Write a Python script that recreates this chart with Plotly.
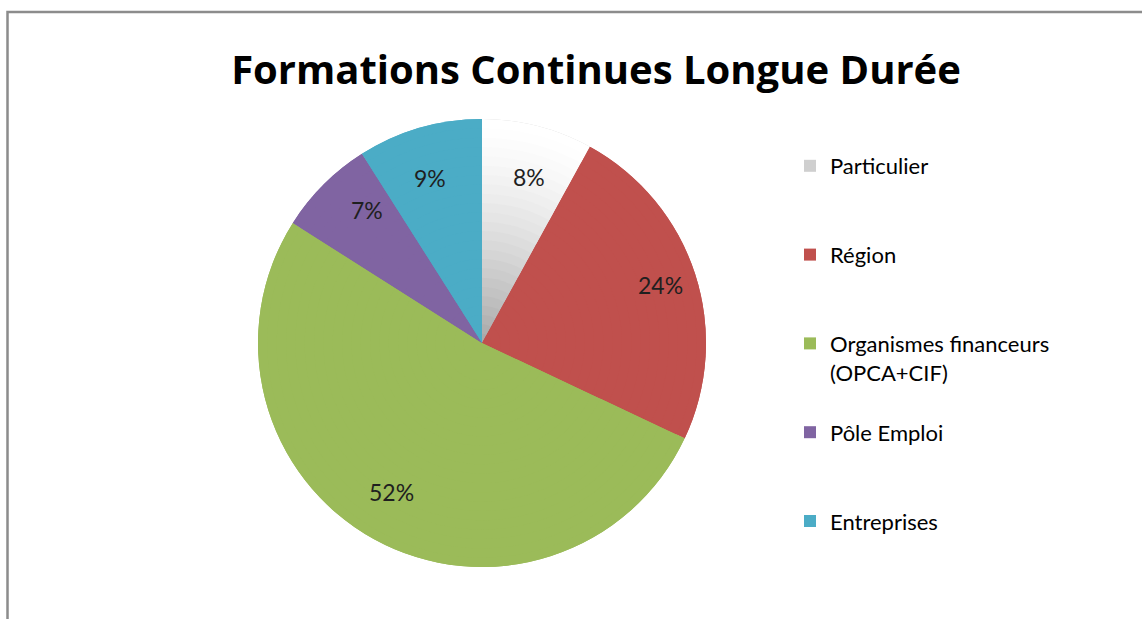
import math
import plotly.graph_objects as go

# Sources de financement
categories = ["Particulier", "Région", "Organismes financeurs<br>(OPCA+CIF)", "Pôle Emploi", "Entreprises"]
values = [8, 24, 52, 7, 9]
colors = ["#cfcfcf", "#c0504d", "#9bbb59", "#8064a2", "#4bacc6"]

W, H = 1142, 619
CX, CY, R = 482, 343, 224  # centre et rayon du camembert en pixels
FONT = "Lato, 'Open Sans', sans-serif"
N_RINGS = 24  # anneaux superposés pour imiter le dégradé du secteur "Particulier"

# lignes vides pour espacer les items de la légende comme dans Excel
legend_labels = [c + "<br> " * (3 - (c.count("<br>") + 1)) for c in categories]


def domain(r):
    return dict(x=[(CX - r) / W, (CX + r) / W], y=[(H - CY - r) / H, (H - CY + r) / H])


def grey(t):
    # t = 0 au bord, 1 au centre
    g = round(255 - 85 * t ** 1.4)
    return f"rgb({g},{g},{g})"


fig = go.Figure()

# camembert de base qui porte la légende (recouvert par les anneaux)
fig.add_trace(go.Pie(
    labels=legend_labels,
    values=values,
    sort=False,
    direction="clockwise",
    rotation=0,
    marker=dict(colors=colors, line=dict(width=0)),
    textinfo="none",
    domain=domain(R),
    hoverinfo="skip",
))

for i in range(N_RINGS):
    r = R * (N_RINGS - i) / N_RINGS
    ring_colors = [grey(i / (N_RINGS - 1))] + colors[1:]
    fig.add_trace(go.Pie(
        labels=legend_labels,
        values=values,
        sort=False,
        direction="clockwise",
        rotation=0,
        marker=dict(colors=ring_colors, line=dict(width=0)),
        textinfo="none",
        domain=domain(r),
        showlegend=False,
        hoverinfo="label+percent" if i == 0 else "skip",
    ))

# étiquettes de pourcentage placées vers l'extérieur comme dans Excel
total = sum(values)
annotations = []
cum = 0
for v in values:
    mid = (cum + v / 2) / total * 2 * math.pi
    cum += v
    px = CX + 0.84 * R * math.sin(mid)
    py = CY - 0.84 * R * math.cos(mid)
    annotations.append(dict(
        x=px / W, y=1 - py / H, xref="paper", yref="paper",
        text=f"{v / total:.0%}", showarrow=False,
        font=dict(family=FONT, size=23, color="#1f1f1f"),
    ))

fig.update_layout(
    width=W, height=H,
    margin=dict(l=0, r=0, t=0, b=0),
    paper_bgcolor="white",
    font=dict(family=FONT, color="black"),
    title=dict(
        text="<b>Formations Continues Longue Durée</b>",
        x=596 / W, xanchor="center",
        y=1 - 70 / H, yanchor="middle",
        font=dict(family="'Open Sans', Lato, sans-serif", size=40, color="black"),
    ),
    legend=dict(
        x=790 / W, xanchor="left",
        y=1 - 145 / H, yanchor="top",
        valign="top",
        font=dict(family=FONT, size=22, color="black"),
        bgcolor="rgba(0,0,0,0)",
    ),
    showlegend=True,
    annotations=annotations,
    shapes=[
        # cadre du graphique (coupé à droite et en bas)
        dict(type="rect", xref="paper", yref="paper",
             x0=7.5 / W, x1=1.02, y0=-0.02, y1=1 - 12 / H,
             line=dict(color="#8c8c8c", width=2.5), fillcolor="rgba(0,0,0,0)"),
    ],
)

fig.write_html("out.html", config={"displayModeBar": False},
               post_script="document.body.style.margin='0';")
